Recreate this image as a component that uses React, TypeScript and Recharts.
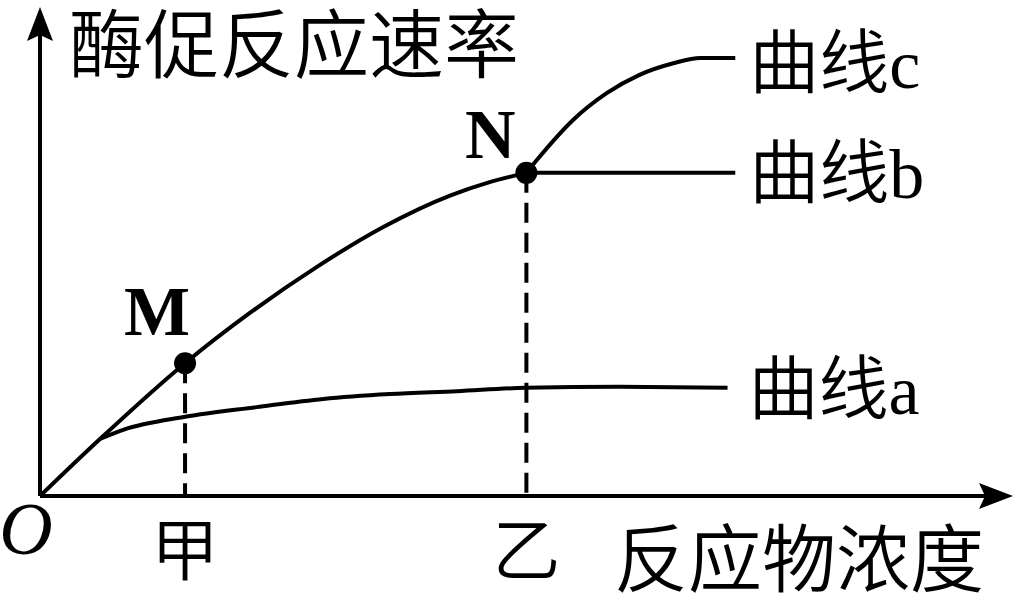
import React from 'react';
import { LineChart, Line, XAxis, YAxis, ReferenceLine, ReferenceDot } from 'recharts';

// main curve (origin -> M -> N)
const mainX = [0, 6.2, 15.0, 21.7, 28.6, 35.5, 42.4, 46.5, 50.3];
const mainY = [0, 11.8, 27.5, 37.9, 47.4, 55.7, 62.2, 65.0, 66.9];
// curve a (branches off early, levels out low)
const aX = [6.2, 8.6, 15.0, 22.4, 29.3, 36.2, 43.1, 50.2, 60.0, 71.1];
const aY = [11.8, 13.7, 16.4, 18.4, 20.1, 21.1, 21.7, 22.4, 22.6, 22.4];
// curve b (flat after N)
const bX = [50.3, 71.9];
const bY = [66.9, 66.9];
// curve c (rises after N)
const cX = [50.3, 51.4, 55.1, 58.6, 62.0, 65.5, 68.3, 71.9];
const cY = [66.9, 69.6, 77.8, 83.4, 87.2, 89.6, 90.7, 90.7];

const tickValues = [15.0, 50.3];
const tickNames = ['甲', '乙'];

const CJK = '"Noto Sans CJK SC", sans-serif';
const SERIF = '"Liberation Serif", "DejaVu Serif", serif';

const zip = (xs: number[], ys: number[]) => xs.map((x, i) => ({ x, y: ys[i] }));
const mainData = zip(mainX, mainY);
const aData = zip(aX, aY);
const bData = zip(bX, bY);
const cData = zip(cX, cY);

const M = mainData[2];
const N = mainData[mainData.length - 1];
const aEnd = aData[aData.length - 1];
const bEnd = bData[bData.length - 1];
const cEnd = cData[cData.length - 1];

const Tag = (props: any) => {
  const { viewBox, text, dx = 0, dy = 0, size = 70, family = CJK, weight = 'normal', italic = false, anchor = 'start', central = false } = props;
  if (!viewBox) return null;
  const cx = viewBox.x + (viewBox.width || 0) / 2;
  const cy = viewBox.y + (viewBox.height || 0) / 2;
  return (
    <text
      x={cx + dx}
      y={cy + dy}
      fontSize={size}
      fontFamily={family}
      fontWeight={weight}
      fontStyle={italic ? 'italic' : 'normal'}
      textAnchor={anchor}
      dominantBaseline={central ? 'central' : 'alphabetic'}
      fill="#000"
    >
      {text}
    </text>
  );
};

const CurveTag = (props: any) => {
  const { viewBox, letter, dx = 0, dy = 0 } = props;
  if (!viewBox) return null;
  const cx = viewBox.x + (viewBox.width || 0) / 2;
  const cy = viewBox.y + (viewBox.height || 0) / 2;
  return (
    <text x={cx + dx} y={cy + dy} fontSize={70} fill="#000">
      <tspan fontFamily={CJK} fontWeight={350}>曲线</tspan>
      <tspan fontFamily={SERIF}>{letter}</tspan>
    </text>
  );
};

const TickTag = (props: any) => {
  const { x, y, payload } = props;
  const i = tickValues.indexOf(payload.value);
  return (
    <text x={x} y={y + 49} fontSize={68} fontFamily={CJK} fontWeight={350} textAnchor="middle" dominantBaseline="central" fill="#000">
      {tickNames[i]}
    </text>
  );
};

export default function App() {
  return (
    <div style={{ position: 'absolute', left: 0, top: 0, width: 1014, height: 600, background: '#fff' }}>
      <LineChart width={1014} height={600} margin={{ top: 13, right: 7, left: 38, bottom: 0 }}>
        <defs>
          <marker
            id="arrowHead"
            viewBox="0 0 34 26"
            markerWidth={34}
            markerHeight={26}
            refX={28}
            refY={13}
            markerUnits="userSpaceOnUse"
            orient="auto-start-reverse"
          >
            <path d="M0,0 L34,13 L0,26 L6,13 Z" fill="#000" />
          </marker>
        </defs>
        <XAxis
          type="number"
          dataKey="x"
          domain={[0, 100]}
          ticks={tickValues}
          tick={<TickTag />}
          tickLine={false}
          tickSize={0}
          tickMargin={0}
          height={104}
          axisLine={{ stroke: '#000', strokeWidth: 4, markerEnd: 'url(#arrowHead)' }}
          allowDataOverflow
        />
        <YAxis
          type="number"
          domain={[0, 100]}
          width={2}
          tick={false}
          tickLine={false}
          axisLine={{ stroke: '#000', strokeWidth: 4, markerStart: 'url(#arrowHead)' }}
          allowDataOverflow
        />
        <ReferenceLine
          segment={[{ x: M.x, y: M.y }, { x: M.x, y: 0 }]}
          stroke="#000"
          strokeWidth={4}
          strokeDasharray="20 10"
        />
        <ReferenceLine
          segment={[{ x: N.x, y: N.y }, { x: N.x, y: 0 }]}
          stroke="#000"
          strokeWidth={4}
          strokeDasharray="20 10"
        />
        <Line data={mainData} dataKey="y" type="monotone" stroke="#000" strokeWidth={4} dot={false} activeDot={false} isAnimationActive={false} />
        <Line data={aData} dataKey="y" type="monotone" stroke="#000" strokeWidth={4} dot={false} activeDot={false} isAnimationActive={false} />
        <Line data={bData} dataKey="y" type="linear" stroke="#000" strokeWidth={4} dot={false} activeDot={false} isAnimationActive={false} />
        <Line data={cData} dataKey="y" type="monotone" stroke="#000" strokeWidth={4} dot={false} activeDot={false} isAnimationActive={false} />
        <ReferenceDot x={M.x} y={M.y} r={11} fill="#000" stroke="none" label={<Tag text="M" family={SERIF} weight="bold" size={70} anchor="middle" dx={-28} dy={-28} />} />
        <ReferenceDot x={N.x} y={N.y} r={11} fill="#000" stroke="none" label={<Tag text="N" family={SERIF} weight="bold" size={70} anchor="middle" dx={-36} dy={-15} />} />
        <ReferenceDot x={cEnd.x} y={cEnd.y} r={0} stroke="none" label={<CurveTag letter="c" dx={14} dy={30} />} />
        <ReferenceDot x={bEnd.x} y={bEnd.y} r={0} stroke="none" label={<CurveTag letter="b" dx={14} dy={25} />} />
        <ReferenceDot x={aEnd.x} y={aEnd.y} r={0} stroke="none" label={<CurveTag letter="a" dx={21} dy={26} />} />
        <ReferenceDot x={0} y={100} r={0} stroke="none" label={<Tag text="酶促反应速率" size={75} weight={350} dx={29} dy={26} central />} />
        <ReferenceDot x={100} y={0} r={0} stroke="none" label={<Tag text="反应物浓度" size={74} weight={350} dx={-393} dy={57} central />} />
        <ReferenceDot x={0} y={0} r={0} stroke="none" label={<Tag text="O" family={SERIF} italic size={74} anchor="middle" dx={-14} dy={58} />} />
      </LineChart>
    </div>
  );
}
